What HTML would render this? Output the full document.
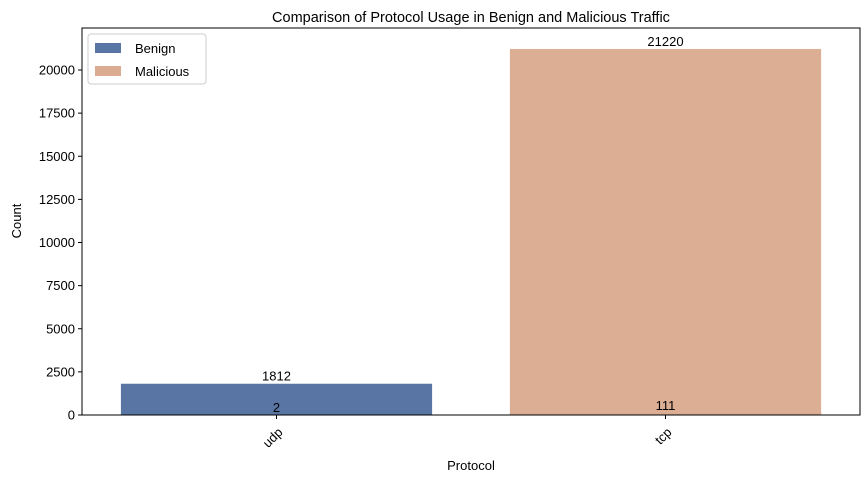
<!DOCTYPE html>
<html><head><meta charset="utf-8"><style>
body{margin:0;background:#fff;}
svg text{font-family:"Liberation Sans","DejaVu Sans",sans-serif;fill:#000;}
</style></head><body>
<svg id="chart" width="868" height="483" xmlns="http://www.w3.org/2000/svg">
<text x="471" y="22" font-size="14.5" text-anchor="middle">Comparison of Protocol Usage in Benign and Malicious Traffic</text>
<g id="bars"></g>
<g id="axes"></g>
<rect x="82" y="28" width="778" height="387" fill="none" stroke="#000" stroke-width="1"/>
<text x="471" y="470" font-size="13" text-anchor="middle">Protocol</text>
<text transform="translate(21,221) rotate(-90)" font-size="13" text-anchor="middle">Count</text>
<g>
<rect x="88" y="34" width="118" height="50" fill="#fff" stroke="#ccc" rx="3"/>
<rect x="95" y="43" width="26" height="10" fill="#5975a4"/>
<text x="135" y="53" font-size="13">Benign</text>
<rect x="95" y="66" width="26" height="10" fill="#dbac91"/>
<text x="135" y="76" font-size="13">Malicious</text>
</g>
</svg>
<script>
const categories = ["udp", "tcp"];
const benign = [1812, 111];
const malicious = [2, 21220];
const yTicks = [0, 2500, 5000, 7500, 10000, 12500, 15000, 17500, 20000];

const NS = "http://www.w3.org/2000/svg";
const L = 82, R = 860, T = 28, B = 415, YMAX = 22435;
const band = (R - L) / categories.length;
const y = v => B - (v / YMAX) * (B - T);
const xc = i => L + band * (i + 0.5);
const bw = band * 0.8;
function mk(tag, attrs, parent) { const e = document.createElementNS(NS, tag); for (const k in attrs) e.setAttribute(k, attrs[k]); parent.appendChild(e); return e; }
const bars = document.getElementById("bars"), axes = document.getElementById("axes");

categories.forEach((c, i) => {
  const b = mk("rect", {x: xc(i) - bw / 2, y: y(benign[i]), width: bw, height: B - y(benign[i]), fill: "#5975a4"}, bars);
  
  
  const m = mk("rect", {x: xc(i) - bw / 2, y: y(malicious[i]), width: bw, height: B - y(malicious[i]), fill: "#dbac91", "fill-opacity": "0.97"}, bars);
  
  
  [benign[i], malicious[i]].forEach((v, j) => {
    const t = mk("text", {x: xc(i), y: y(v) - 3, "font-size": "13", "text-anchor": "middle"}, bars);
    t.textContent = v;
    
    
  });
  mk("line", {x1: xc(i), x2: xc(i), y1: B, y2: B + 4, stroke: "#000"}, axes);
  const tl = mk("text", {transform: `translate(${xc(i) + 7},${B + 18}) rotate(-45)`, "font-size": "13", "text-anchor": "end"}, axes);
  tl.textContent = c;
  
  
});
yTicks.forEach(v => {
  mk("line", {x1: L - 4, x2: L, y1: y(v), y2: y(v), stroke: "#000"}, axes);
  const t = mk("text", {x: L - 7, y: y(v) + 4.5, "font-size": "13", "text-anchor": "end"}, axes);
  t.textContent = v;
  
  
});
</script>
</body></html>
